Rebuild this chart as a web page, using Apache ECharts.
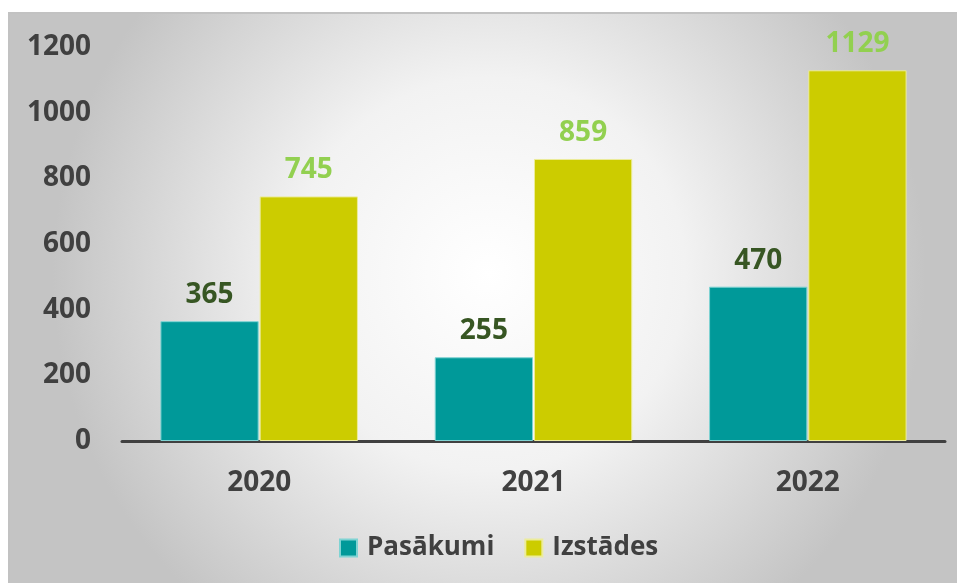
<!DOCTYPE html>
<html>
<head>
<meta charset="utf-8">
<style>
  html, body { margin: 0; padding: 0; background: #ffffff; }
  #chart { width: 957px; height: 583px; }
</style>
<script src="https://cdn.jsdelivr.net/npm/echarts@6/dist/echarts.min.js"></script>
</head>
<body>
<div id="chart"></div>
<script>
// Yearly counts of events and exhibitions
const years = ['2020', '2021', '2022'];
const pasakumi = [365, 255, 470];
const izstades = [745, 859, 1129];
const yTicks = { min: 0, max: 1200, interval: 200 };

const FONT = '"Open Sans", Lato, sans-serif';

const chart = echarts.init(document.getElementById('chart'), null, { renderer: 'canvas' });

chart.setOption({
  backgroundColor: '#ffffff',
  animation: false,
  graphic: [
    {
      type: 'rect',
      z: -10,
      silent: true,
      shape: { x: 9, y: 13, width: 960, height: 580 },
      style: {
        fill: {
          type: 'radial', x: 0.5, y: 0.45, r: 0.75,
          colorStops: [
            { offset: 0, color: '#ffffff' },
            { offset: 0.45, color: '#f2f2f2' },
            { offset: 1, color: '#c4c4c4' }
          ]
        },
        stroke: '#c2c2c2',
        lineWidth: 2
      }
    }
  ],
  grid: { left: 122, right: 12, top: 47, bottom: 142, containLabel: false },
  legend: {
    data: ['Pasākumi', 'Izstādes'],
    bottom: 17,
    left: 334,
    itemWidth: 17,
    itemHeight: 17,
    itemGap: 30,
    icon: 'rect',
    textStyle: { fontFamily: FONT, fontWeight: 'bold', fontSize: 26, color: '#404040', padding: [0, 0, 0, 5] }
  },
  xAxis: {
    type: 'category',
    data: years,
    axisLine: { show: true, lineStyle: { color: '#404040', width: 3 } },
    axisTick: { show: false },
    axisLabel: { fontFamily: FONT, fontWeight: 'bold', fontSize: 28, color: '#404040', margin: 28 }
  },
  yAxis: {
    type: 'value',
    min: yTicks.min,
    max: yTicks.max,
    interval: yTicks.interval,
    axisLine: { show: false },
    axisTick: { show: false },
    splitLine: { show: false },
    axisLabel: {
      fontFamily: FONT, fontWeight: 'bold', fontSize: 28, color: '#404040', margin: 31,
      formatter: v => String(v)
    }
  },
  series: [
    {
      name: 'Pasākumi',
      type: 'bar',
      data: pasakumi,
      barGap: '1%',
      barCategoryGap: '28%',
      itemStyle: { color: '#009999', borderColor: '#7fd3d3', borderWidth: 1 },
      label: {
        show: true, position: 'top', distance: 12,
        fontFamily: FONT, fontWeight: 'bold', fontSize: 28, color: '#375623'
      }
    },
    {
      name: 'Izstādes',
      type: 'bar',
      data: izstades,
      itemStyle: { color: '#cccc00', borderColor: '#ecec9a', borderWidth: 1 },
      label: {
        show: true, position: 'top', distance: 12,
        fontFamily: FONT, fontWeight: 'bold', fontSize: 28, color: '#92d050'
      }
    }
  ]
});
</script>
</body>
</html>
